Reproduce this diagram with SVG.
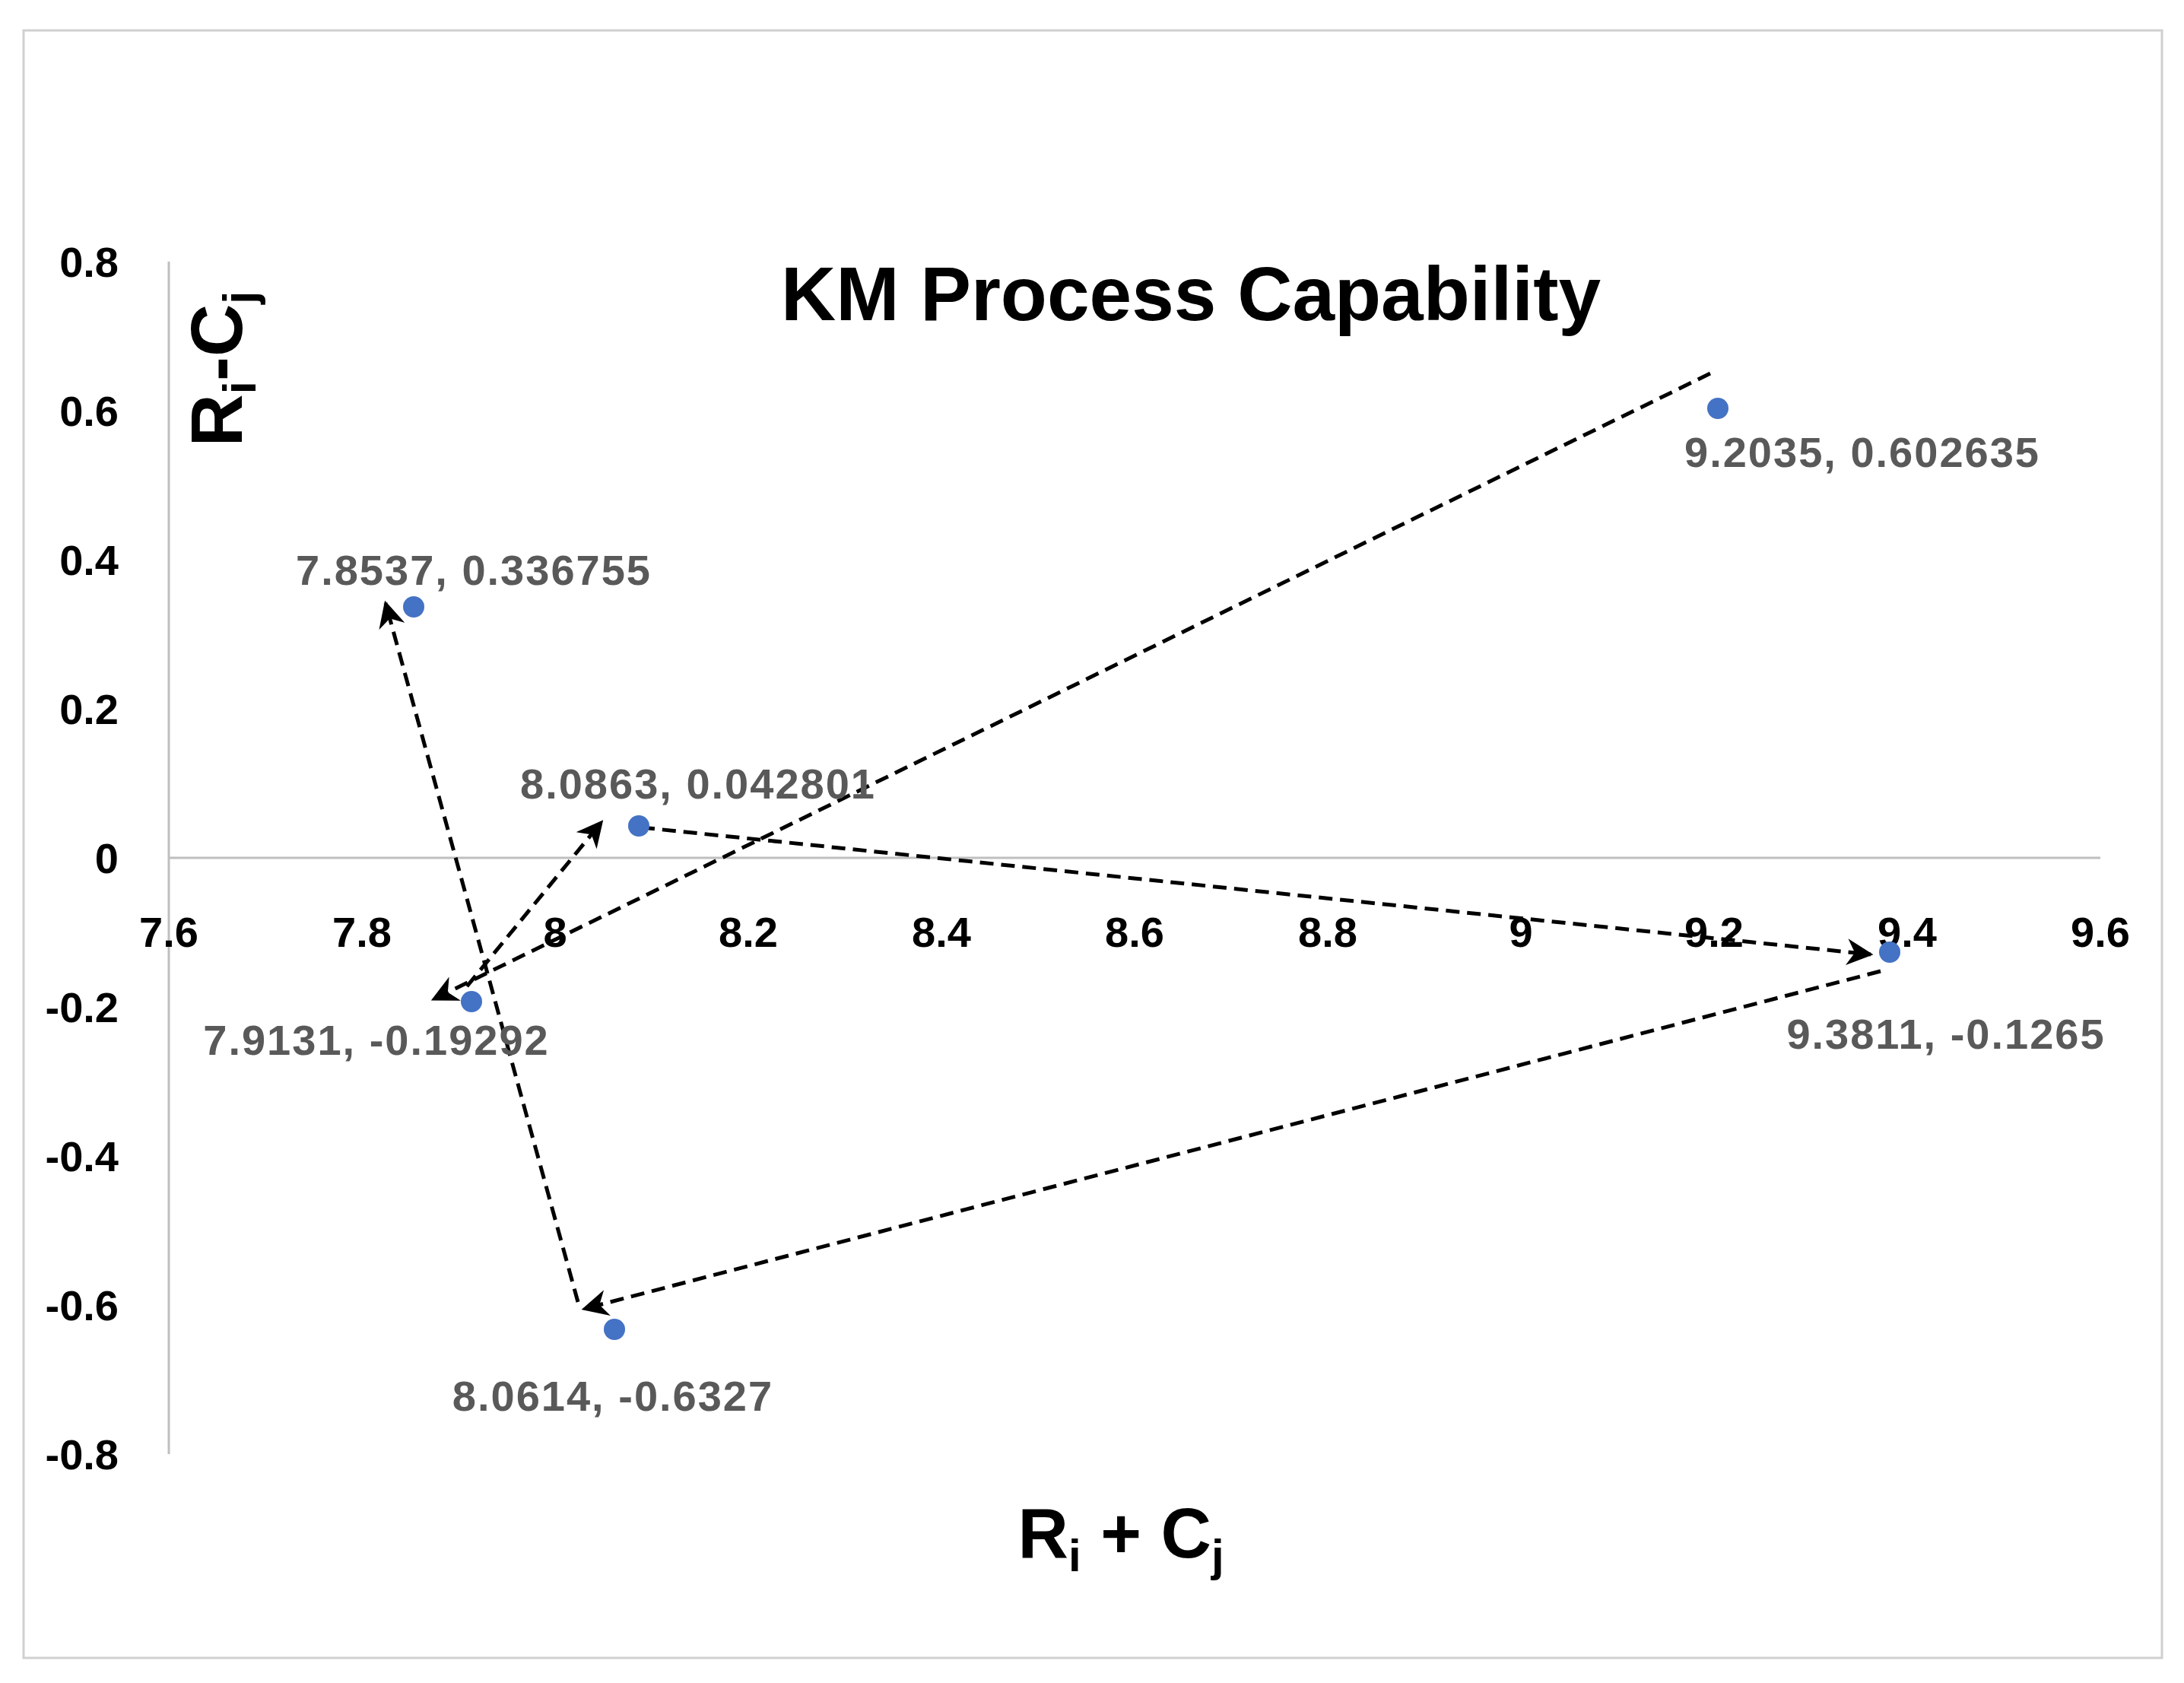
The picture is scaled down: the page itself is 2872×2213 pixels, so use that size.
<svg xmlns="http://www.w3.org/2000/svg" width="2872" height="2213" viewBox="0 0 2872 2213">
<style>
.ax{stroke:#bfbfbf;stroke-width:3;fill:none}
.tk{font-family:"Liberation Sans",Arial,sans-serif;font-weight:bold;font-size:56px;fill:#000}
.lb{font-family:"Liberation Sans",Arial,sans-serif;font-weight:bold;font-size:56px;letter-spacing:2px;fill:#595959;text-anchor:middle}
.ti{font-family:"Liberation Sans",Arial,sans-serif;font-weight:bold;fill:#000}
.dot{fill:#4472c4}
.ar{stroke:#000;stroke-width:5;stroke-dasharray:18 10;fill:none;marker-end:url(#ah)}
</style>
<defs>
<marker id="ah" viewBox="0 0 10 10" refX="9" refY="5" markerWidth="7" markerHeight="7" orient="auto" markerUnits="strokeWidth">
<path d="M0,0 L10,5 L0,10 L3,5 z" fill="#000"/>
</marker>
</defs>
<rect width="2872" height="2213" fill="#fff"/>
<rect x="31" y="40" width="2812" height="2140" fill="none" stroke="#d0d0d0" stroke-width="3"/>
<g id="axes">
<line class="ax" x1="222" y1="344" x2="222" y2="1912"/>
<line class="ax" x1="222" y1="1128" x2="2762" y2="1128"/>
<g class="tk" text-anchor="end">
<text x="156" y="364">0.8</text><text x="156" y="560">0.6</text><text x="156" y="756">0.4</text><text x="156" y="952">0.2</text><text x="156" y="1148">0</text><text x="156" y="1344">-0.2</text><text x="156" y="1540">-0.4</text><text x="156" y="1736">-0.6</text><text x="156" y="1932">-0.8</text>
</g>
<g class="tk" text-anchor="middle">
<text x="222" y="1245">7.6</text><text x="476" y="1245">7.8</text><text x="730" y="1245">8</text><text x="984" y="1245">8.2</text><text x="1238" y="1245">8.4</text><text x="1492" y="1245">8.6</text><text x="1746" y="1245">8.8</text><text x="2000" y="1245">9</text><text x="2254" y="1245">9.2</text><text x="2508" y="1245">9.4</text><text x="2762" y="1245">9.6</text>
</g>
</g>
<text id="title" class="ti" x="1566" y="421" font-size="100" text-anchor="middle">KM Process Capability</text>
<text id="xtitle" class="ti" x="1474" y="2048" font-size="92" text-anchor="middle">R<tspan font-size="60" dy="18">i</tspan><tspan dy="-18"> + C</tspan><tspan font-size="60" dy="18">j</tspan></text>
<text id="ytitle" class="ti" transform="translate(318,485) rotate(-90)" font-size="96" text-anchor="middle">R<tspan font-size="62" dy="18">i</tspan><tspan dy="-18">-C</tspan><tspan font-size="62" dy="18">j</tspan></text>
<g id="connectors">
<line class="ar" x1="2249" y1="491" x2="570" y2="1314"/>
<line class="ar" x1="614" y1="1297" x2="791" y2="1081"/>
<line class="ar" x1="843" y1="1088" x2="2460" y2="1255"/>
<line class="ar" x1="2473" y1="1277" x2="768" y2="1721"/>
<line class="ar" x1="760" y1="1712" x2="507" y2="793"/>
</g>
<g id="p1"><circle class="dot" cx="544" cy="798" r="14"/><text class="lb" x="623" y="769">7.8537, 0.336755</text></g>
<g id="p2"><circle class="dot" cx="840" cy="1086" r="14"/><text class="lb" x="918" y="1050">8.0863, 0.042801</text></g>
<g id="p3"><circle class="dot" cx="2259" cy="537" r="14"/><text class="lb" x="2449" y="614">9.2035, 0.602635</text></g>
<g id="p4"><circle class="dot" cx="2485" cy="1252" r="14"/><text class="lb" x="2559" y="1379">9.3811, -0.1265</text></g>
<g id="p5"><circle class="dot" cx="620" cy="1317" r="14"/><text class="lb" x="495" y="1387">7.9131, -0.19292</text></g>
<g id="p6"><circle class="dot" cx="808" cy="1748" r="14"/><text class="lb" x="806" y="1855">8.0614, -0.6327</text></g>
</svg>
